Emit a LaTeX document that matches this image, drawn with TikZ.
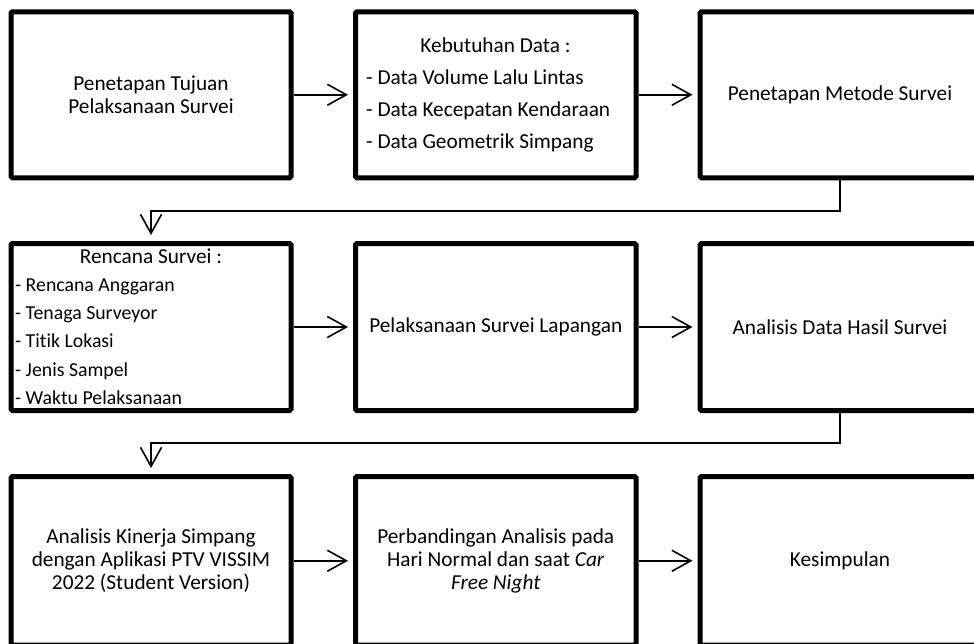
\documentclass[tikz,border=0pt]{standalone}
\usepackage{fontspec}
\setmainfont{Carlito}[Ligatures=NoCommon]
\usetikzlibrary{arrows.meta}
\begin{document}
\begin{tikzpicture}[x=1pt,y=-1pt,
  box/.style={draw=black, line width=5pt, rounded corners=1.5pt, minimum width=280pt, minimum height=166pt, inner sep=0pt, align=center, font=\fontsize{21.3}{23.2}\selectfont},
  lastbox/.style={box, minimum height=168.5pt},
  txt/.style={inner sep=0pt, anchor=base, font=\fontsize{21.3}{23.2}\selectfont},
  txtl/.style={inner sep=0pt, anchor=base west, font=\fontsize{21.3}{23.2}\selectfont},
  stxtl/.style={inner sep=0pt, anchor=base west, font=\fontsize{19.8}{22}\selectfont},
  conn/.style={line width=1.6pt, -{Straight Barb[length=19pt,width=21pt,line width=1.6pt]}, shorten >=5pt},
]
\useasboundingbox (0,0) rectangle (974,643);

% Row 1
\node[box] (b1) at (151,94.75) {Penetapan Tujuan\\Pelaksanaan Survei};
\node[box, minimum width=280.5pt] (b2) at (495.75,94.75) {};
\node[box] (b3) at (840,94.75) {Penetapan Metode Survei};

\node[txt] (b2t) at (495.5,52.7) {Kebutuhan Data :};
\node[txtl] (b2a) at (366,84) {- Data Volume Lalu Lintas};
\node[txtl] (b2b) at (366,116) {- Data Kecepatan Kendaraan};
\node[txtl] (b2c) at (366,148) {- Data Geometrik Simpang};

% Row 2
\node[box, minimum height=167pt] (b4) at (151,327) {};
\node[box, minimum width=280.5pt, minimum height=167pt] (b5) at (495.75,327) {Pelaksanaan Survei Lapangan};
\node[box, minimum height=167pt] (b6) at (840,327) {Analisis Data Hasil Survei};

\node[txt] (b4t) at (151,263) {Rencana Survei :};
\node[stxtl] (b4a) at (15,291.5) {- Rencana Anggaran};
\node[stxtl] (b4b) at (15,319.5) {- Tenaga Surveyor};
\node[stxtl] (b4c) at (15,347.8) {- Titik Lokasi};
\node[stxtl] (b4d) at (15,376.2) {- Jenis Sampel};
\node[stxtl] (b4e) at (15,404.3) {- Waktu Pelaksanaan};

% Row 3
\node[lastbox] (b7) at (151,560.75) {Analisis Kinerja Simpang\\dengan Aplikasi PTV VISSIM\\2022 (Student Version)};
\node[lastbox, minimum width=280.5pt] (b8) at (495.75,560.75) {Perbandingan Analisis pada\\Hari Normal dan saat \textit{Car}\\\textit{Free Night}};
\node[lastbox] (b9) at (840,560.75) {Kesimpulan};

% connectors
\coordinate (c1) at (840,211);
\coordinate (c2) at (151,211);
\coordinate (c3) at (840,443);
\coordinate (c4) at (151,443);

\draw[conn] (b1) -- (b2);
\draw[conn] (b2) -- (b3);
\draw[conn, shorten >=6pt] (b3.south) -- (c1) -- (c2) -- (b4.north);
\draw[conn] (b4.east) -- (b5.west);
\draw[conn] (b5) -- (b6);
\draw[conn, shorten >=6pt] (b6.south) -- (c3) -- (c4) -- (b7.north);
\draw[conn] (b7) -- (b8);
\draw[conn] (b8) -- (b9);
\end{tikzpicture}
\end{document}
